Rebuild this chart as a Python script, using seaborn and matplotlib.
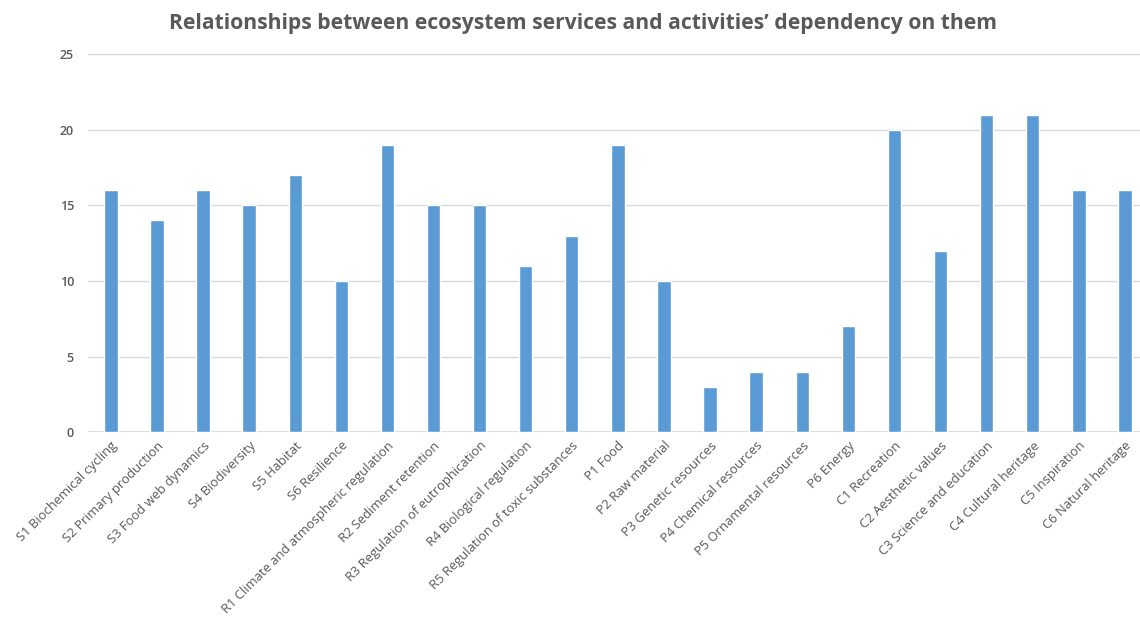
import matplotlib
matplotlib.use("Agg")
import matplotlib.pyplot as plt
import seaborn as sns
import pandas as pd

services = [
    "S1 Biochemical cycling", "S2 Primary production", "S3 Food web dynamics",
    "S4 Biodiversity", "S5 Habitat", "S6 Resilience",
    "R1 Climate and atmospheric regulation", "R2 Sediment retention",
    "R3 Regulation of eutrophication", "R4 Biological regulation",
    "R5 Regulation of toxic substances", "P1 Food", "P2 Raw material",
    "P3 Genetic resources", "P4 Chemical resources", "P5 Ornamental resources",
    "P6 Energy", "C1 Recreation", "C2 Aesthetic values",
    "C3 Science and education", "C4 Cultural heritage", "C5 Inspiration",
    "C6 Natural heritage",
]
dependency = [16, 14, 16, 15, 17, 10, 19, 15, 15, 11, 13, 19, 10, 3, 4, 4, 7,
              20, 12, 21, 21, 16, 16]
y_ticks = [0, 5, 10, 15, 20, 25]

df = pd.DataFrame({"service": services, "count": dependency})

sns.set_theme(style="white")
plt.rcParams["font.family"] = ["Open Sans", "DejaVu Sans"]

text_grey = "#595959"
bar_blue = "#5B9BD5"

fig = plt.figure(figsize=(11.4, 6.21), dpi=100)
ax = fig.add_axes([0.077, 0.304, 0.93, 0.609])

sns.barplot(data=df, x="service", y="count", color=bar_blue, width=0.29,
            saturation=1, ax=ax, zorder=3)

ax.set_ylim(0, 25)
ax.set_yticks(y_ticks)
ax.set_xlim(-0.5, len(services) - 0.5)
ax.yaxis.grid(True, color="#D9D9D9", linewidth=1, zorder=0)
ax.set_axisbelow(True)
for side in ["top", "right", "left", "bottom"]:
    ax.spines[side].set_visible(False)
ax.axhline(0, color="#D9D9D9", linewidth=1.2, zorder=2)

ax.set_xlabel("")
ax.set_ylabel("")
ax.tick_params(axis="both", length=0, colors=text_grey)
ax.tick_params(axis="y", pad=10, labelsize=9)
for lbl in ax.get_yticklabels():
    lbl.set_fontweight("semibold")
ax.set_xticks(range(len(services)))
ax.set_xticklabels(services, rotation=45, ha="right", rotation_mode="anchor",
                   color=text_grey, fontsize=9.4)
ax.tick_params(axis="x", pad=5)

fig.text(0.511, 0.962, "Relationships between ecosystem services and activities\u2019 dependency on them",
         ha="center", va="center", fontsize=15.2, fontweight="bold", color=text_grey)

fig.savefig("out.png", dpi=100, facecolor="white")
